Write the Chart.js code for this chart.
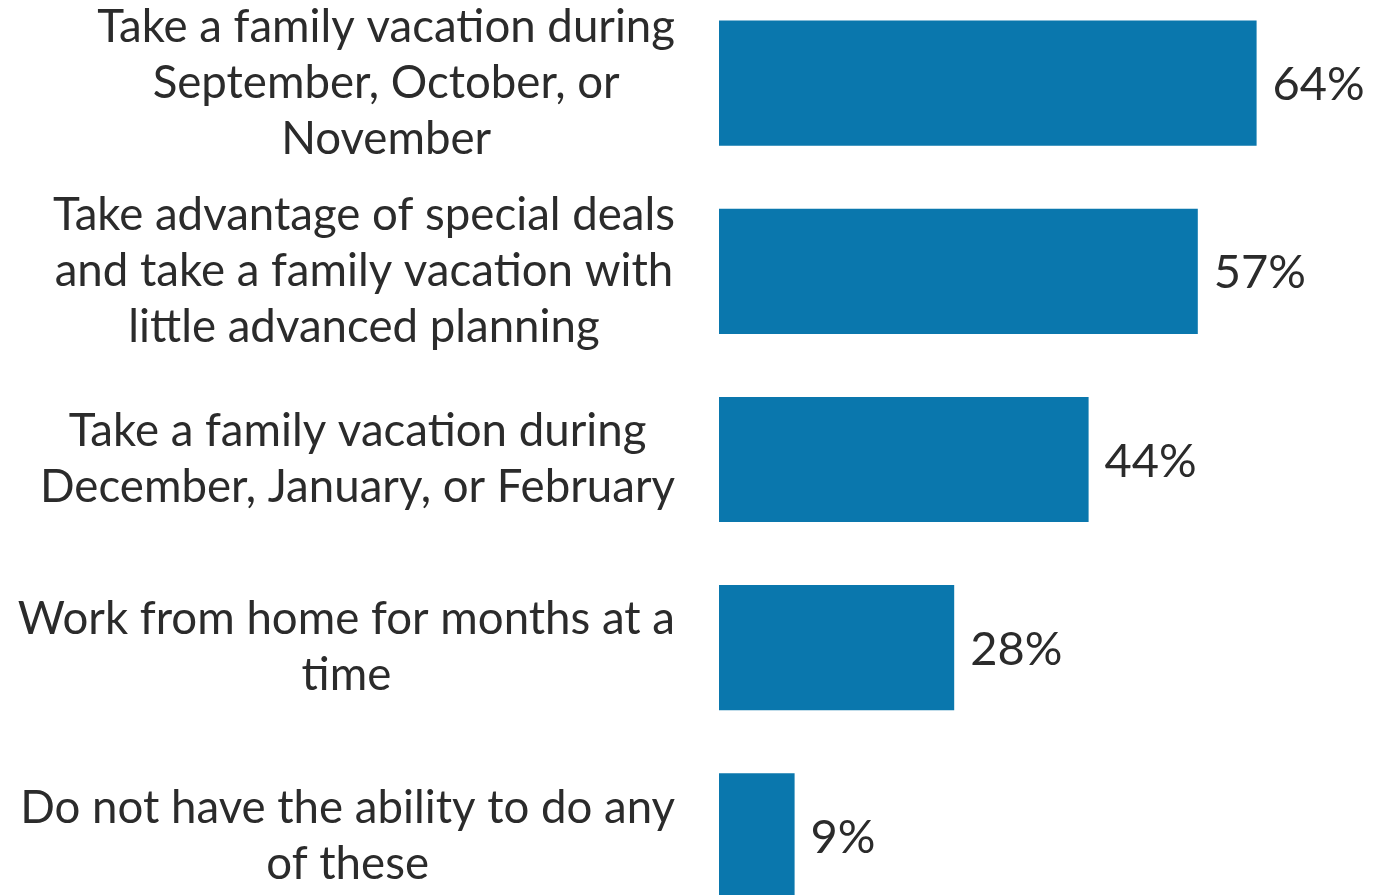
<!DOCTYPE html>
<html>
<head>
<meta charset="utf-8">
<script src="https://cdn.jsdelivr.net/npm/chart.js@4/dist/chart.umd.min.js"></script>
<style>
  html, body { margin: 0; padding: 0; background: #fff; overflow: hidden; }
  #wrap { position: absolute; left: 0; top: -11px; width: 1391px; height: 941px; }
</style>
</head>
<body>
<div id="wrap"><canvas id="chart"></canvas></div>
<script>
// categories (split into the lines shown in the picture)
const categories = [
  ['Take a family vacation during', 'September, October, or', 'November'],
  ['Take advantage of special deals', 'and take a family vacation with', 'little advanced planning'],
  ['Take a family vacation during', 'December, January, or February'],
  ['Work from home for months at a', 'time'],
  ['Do not have the ability to do any', 'of these'],
];
const values = [64, 57, 44, 28, 9];

const barColor = '#0a77ad';
const textColor = '#2b2b2b';
const fontFamily = 'Lato, "Open Sans", sans-serif';
const fontWeight = 400;

// size the label font so the widest line of all fits the ~658px label column
function pickFontSize() {
  const c = document.createElement('canvas').getContext('2d');
  c.font = `${fontWeight} 100px ${fontFamily}`;
  const w = Math.max(...categories.flat().map((l) => c.measureText(l).width));
  return Math.floor((658 / w) * 1000) / 10;
}
const fontSize = pickFontSize();
const lineH = 56;

const labelsPlugin = {
  id: 'sideLabels',
  afterDatasetsDraw(chart) {
    const { ctx } = chart;
    const y = chart.scales.y;
    const x = chart.scales.x;
    ctx.save();
    ctx.fillStyle = textColor;
    ctx.font = `${fontWeight} ${fontSize}px ${fontFamily}`;
    ctx.textBaseline = 'middle';
    const rightEdge = 675;
    categories.forEach((lines, i) => {
      const cy = y.getPixelForValue(i);
      const maxW = Math.max(...lines.map((l) => ctx.measureText(l).width));
      const cx = rightEdge - maxW / 2;
      ctx.textAlign = 'center';
      lines.forEach((l, j) => {
        ctx.fillText(l, cx, cy + (j - (lines.length - 1) / 2) * lineH);
      });
    });
    ctx.font = `${fontWeight} 47px ${fontFamily}`;
    ctx.textAlign = 'left';
    values.forEach((v, i) => {
      ctx.fillText(v + '%', x.getPixelForValue(v) + 16, y.getPixelForValue(i) + 2);
    });
    ctx.restore();
  },
};

new Chart(document.getElementById('chart'), {
  type: 'bar',
  data: {
    labels: categories.map((c) => c.join(' ')),
    datasets: [{
      data: values,
      backgroundColor: barColor,
      borderWidth: 0,
      categoryPercentage: 1,
      barPercentage: 0.665,
    }],
  },
  options: {
    indexAxis: 'y',
    responsive: true,
    maintainAspectRatio: false,
    animation: false,
    layout: { padding: { left: 719, right: 0, top: 0, bottom: 0 } },
    plugins: { legend: { display: false }, tooltip: { enabled: false } },
    scales: {
      x: { display: false, min: 0, max: 80 },
      y: { display: false },
    },
  },
  plugins: [labelsPlugin],
});
</script>
</body>
</html>
